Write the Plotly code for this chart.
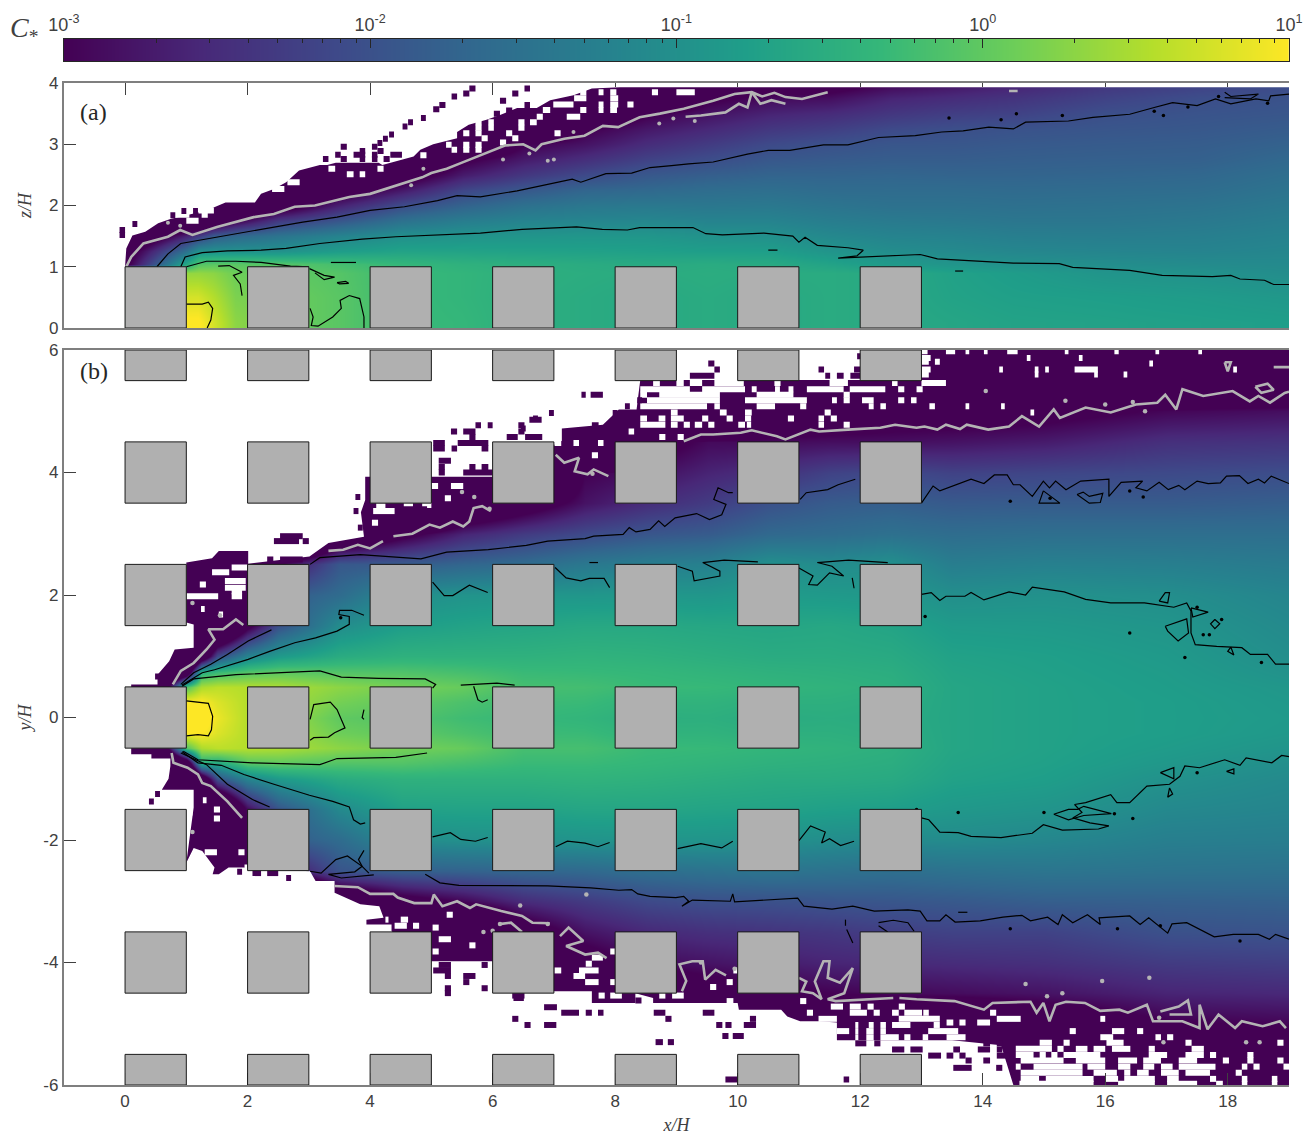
import plotly.graph_objects as go

# ---------- colour bar ----------
CB_DECADES = [0.001, 0.01, 0.1, 1, 10]
CB_EXPONENTS = [-3, -2, -1, 0, 1]
CB_LABELS = ["10<sup>-3</sup>", "10<sup>-2</sup>", "10<sup>-1</sup>", "10<sup>0</sup>", "10<sup>1</sup>"]
CB_MINOR = [m * d for d in CB_DECADES[:-1] for m in (2, 3, 4, 5, 6, 7, 8, 9)]

# ---------- canopy blocks ----------
BLOCK_X = [0, 2, 4, 6, 8, 10, 12]
BLOCK_Y = [-6, -4, -2, 0, 2, 4, 6]

# ---------- panel (a): log10 C by column ----------
XA = [0, 1, 1.2, 1.45, 1.8, 2.5, 3.5, 4.5, 5.5, 6.5, 7.5, 8.5, 9.5, 10.5, 11.5, 12.5, 13.5, 14.5, 16, 17.5, 19]
ZA = [0.1, 0.5, 0.9, 1.05, 1.25, 1.5, 1.75, 2, 2.25, 2.5, 2.75, 3, 3.25, 3.5, 3.75, 3.95]
COLS_A = [
 [-.3,-.3,-.3,-3.2,-3.4,-4,-5,-5,-5,-5,-5,-5,-5,-5,-5,-5],
 [1.05,.75,.35,-.6,-1.5,-2.6,-4,-5,-5,-5,-5,-5,-5,-5,-5,-5],
 [1.05,.75,.35,-.1,-1,-2.3,-4,-5,-5,-5,-5,-5,-5,-5,-5,-5],
 [.75,.55,.3,-.05,-.98,-1.85,-3.5,-4,-5,-5,-5,-5,-5,-5,-5,-5],
 [.3,.2,.1,-.05,-.98,-1.65,-3,-4,-5,-5,-5,-5,-5,-5,-5,-5],
 [.1,.1,0,-.08,-.98,-1.45,-2.3,-3.4,-4,-5,-5,-5,-5,-5,-5,-5],
 [-.05,-.05,-.08,-.2,-.8,-1.2,-1.9,-2.6,-3.3,-4,-5,-5,-5,-5,-5,-5],
 [-.3,-.3,-.3,-.35,-.7,-1,-1.5,-2.05,-2.75,-3.4,-4,-5,-5,-5,-5,-5],
 [-.35,-.38,-.38,-.45,-.7,-.95,-1.3,-1.72,-2.15,-2.7,-3.1,-4,-5,-5,-5,-5],
 [-.5,-.5,-.48,-.5,-.72,-.92,-1.2,-1.5,-1.9,-2.35,-2.7,-3.02,-4,-5,-5,-5],
 [-.55,-.55,-.52,-.55,-.73,-.9,-1.17,-1.4,-1.7,-2.1,-2.45,-2.8,-3.05,-3.6,-4.5,-5],
 [-.6,-.6,-.55,-.58,-.75,-.9,-1.15,-1.37,-1.65,-1.9,-2.2,-2.5,-2.75,-3.05,-4,-5],
 [-.55,-.55,-.52,-.55,-.78,-.97,-1.2,-1.4,-1.58,-1.8,-2.05,-2.3,-2.55,-2.8,-3.1,-4],
 [-.6,-.6,-.55,-.58,-.78,-1,-1.2,-1.38,-1.55,-1.72,-1.9,-2.1,-2.35,-2.6,-2.9,-3.3],
 [-.55,-.55,-.55,-.7,-.93,-1.12,-1.3,-1.45,-1.6,-1.72,-1.85,-2,-2.25,-2.5,-2.85,-3.2],
 [-.6,-.6,-.6,-.85,-1.05,-1.2,-1.35,-1.5,-1.6,-1.7,-1.82,-1.93,-2.1,-2.35,-2.6,-2.9],
 [-.65,-.7,-.72,-.92,-1.1,-1.22,-1.38,-1.5,-1.6,-1.72,-1.82,-1.92,-2.03,-2.25,-2.5,-2.75],
 [-.7,-.75,-.8,-.98,-1.15,-1.28,-1.42,-1.52,-1.62,-1.72,-1.8,-1.88,-1.98,-2.2,-2.4,-2.6],
 [-.72,-.78,-.93,-1.04,-1.18,-1.3,-1.42,-1.5,-1.6,-1.7,-1.78,-1.85,-1.93,-2.02,-2.2,-2.35],
 [-.75,-.82,-.97,-1.08,-1.2,-1.28,-1.38,-1.47,-1.58,-1.67,-1.77,-1.83,-1.9,-1.96,-2.05,-2.2],
 [-.78,-.88,-1.05,-1.1,-1.16,-1.22,-1.3,-1.38,-1.47,-1.55,-1.65,-1.75,-1.84,-1.92,-1.98,-2.07],
]

# ---------- panel (b): log10 C by column ----------
XB = [.4, 1, 1.25, 1.5, 2, 2.5, 3.5, 4.5, 5.5, 6.5, 7.5, 8.5, 9.5, 10.5, 11.5, 12.5, 13.5, 15, 17, 19]
YB = [6, 5.5, 5, 4.5, 4, 3.5, 3, 2.5, 2, 1.5, 1, .75, .5, .25, 0, -.25, -.5, -.75, -1, -1.5, -2, -2.5, -3, -3.5, -4, -4.5, -5, -5.5, -6]
COLS_B = [
 [-6,-6,-6,-6,-6,-6,-6,-6,-6,-6,-6,-6,-6,-6,-6,-6,-6,-6,-6,-6,-6,-6,-6,-6,-6,-6,-6,-6,-6],
 [-6,-6,-6,-6,-6,-6,-6,-6,-6,-6,-6,-4,-.1,1,1.2,1,-.1,-4,-6,-6,-6,-6,-6,-6,-6,-6,-6,-6,-6],
 [-6,-6,-6,-6,-6,-6,-6,-6,-6,-6,-4,-.5,.5,1.02,1.2,1.02,.5,-.5,-4,-6,-6,-6,-6,-6,-6,-6,-6,-6,-6],
 [-6,-6,-6,-6,-6,-6,-6,-6,-6,-5,-2.1,-.3,.6,.8,.9,.8,.6,-.6,-2,-5,-6,-6,-6,-6,-6,-6,-6,-6,-6],
 [-6,-6,-6,-6,-6,-6,-6,-6,-5,-3.2,-1.2,-.1,.55,.55,.55,.55,.55,-.05,-1.2,-2.9,-4.5,-6,-6,-6,-6,-6,-6,-6,-6],
 [-6,-6,-6,-6,-6,-6,-6,-3,-1.9,-2,-.85,-.02,.5,.5,.45,.5,.5,0,-.85,-1.95,-1.9,-3,-6,-6,-6,-6,-6,-6,-6],
 [-6,-6,-6,-6,-6,-6,-4,-1.9,-1.6,-1.05,-.55,-.1,.3,.15,0,.1,.3,-.1,-.55,-1.1,-1.6,-1.95,-4,-6,-6,-6,-6,-6,-6],
 [-6,-6,-6,-6,-6,-6,-3.2,-1.85,-1.05,-.78,-.45,-.12,.15,0,-.1,0,.15,-.1,-.45,-.72,-1.05,-1.8,-3.3,-6,-6,-6,-6,-6,-6],
 [-6,-6,-6,-6,-6,-4,-2.6,-1.7,-.95,-.7,-.45,-.2,.05,-.15,-.25,-.15,.05,-.2,-.45,-.7,-1,-1.75,-2.95,-5,-6,-6,-6,-6,-6],
 [-6,-6,-6,-6,-5,-3.4,-2.3,-1.6,-.9,-.65,-.45,-.3,-.2,-.28,-.33,-.28,-.2,-.3,-.45,-.7,-.98,-1.7,-2.5,-3.4,-5,-6,-6,-6,-6],
 [-6,-6,-6,-6,-3,-2.8,-2.1,-1.4,-.9,-.6,-.42,-.32,-.22,-.3,-.38,-.3,-.2,-.3,-.42,-.65,-.95,-1.65,-2.3,-2.8,-3.3,-5,-6,-6,-6],
 [-6,-6,-6,-3.3,-2.85,-2.5,-1.93,-1.3,-.88,-.6,-.45,-.35,-.3,-.42,-.5,-.42,-.3,-.35,-.45,-.65,-.93,-1.55,-2.1,-2.55,-2.9,-3.6,-6,-6,-6],
 [-6,-6,-5,-2.9,-2.6,-2.3,-1.85,-1.25,-.9,-.63,-.5,-.4,-.32,-.42,-.48,-.42,-.32,-.4,-.5,-.68,-.93,-1.5,-2.02,-2.45,-2.8,-3.3,-6,-6,-6],
 [-6,-6,-3.7,-2.9,-2.45,-2,-1.65,-1,-.82,-.65,-.55,-.45,-.38,-.48,-.55,-.48,-.38,-.45,-.55,-.7,-.97,-1.45,-2,-2.4,-2.7,-3.1,-5,-6,-6],
 [-6,-6,-3.5,-2.85,-2.2,-1.85,-1.6,-1.08,-.85,-.62,-.55,-.48,-.42,-.48,-.52,-.48,-.42,-.48,-.55,-.75,-1.05,-1.5,-1.95,-2.35,-2.6,-3,-5,-6,-6],
 [-6,-4,-3.3,-2.85,-2.1,-1.8,-1.52,-1,-.88,-.68,-.58,-.52,-.48,-.52,-.55,-.52,-.48,-.52,-.58,-.78,-1.1,-1.55,-1.92,-2.25,-2.55,-2.93,-4,-6,-6],
 [-4,-4,-3.3,-2.8,-2.2,-1.87,-1.58,-1.3,-1.02,-.83,-.72,-.68,-.65,-.65,-.65,-.65,-.65,-.68,-.72,-.87,-1.08,-1.5,-1.88,-2.2,-2.5,-2.88,-4,-5,-6],
 [-4,-4,-3.2,-2.7,-2.15,-1.85,-1.55,-1.25,-.98,-.85,-.76,-.74,-.72,-.72,-.72,-.72,-.72,-.74,-.78,-.93,-1.15,-1.45,-1.8,-2.2,-2.45,-2.8,-3.5,-5,-6],
 [-4,-4,-2.95,-2.45,-2.1,-1.85,-1.55,-1.28,-1.03,-.92,-.85,-.82,-.8,-.78,-.78,-.78,-.82,-.88,-.98,-1.12,-1.28,-1.48,-1.78,-2,-2.3,-2.6,-3.05,-5,-6],
 [-4,-4,-2.85,-2.4,-2.05,-1.8,-1.55,-1.35,-1.18,-1.1,-1.03,-.97,-.9,-.87,-.85,-.87,-.93,-1.03,-1.1,-1.18,-1.3,-1.5,-1.75,-1.97,-2.25,-2.55,-2.97,-5,-6],
]

# ---------- outer edge of the non-zero region (x, y pairs) ----------
EDGE_A = [(0,1),(.02,1.3),(.12,1.51),(.33,1.57),(.54,1.71),(.74,1.78),(1.33,1.92),(1.64,2.05),(2.12,2.05),(2.22,2.19),
          (2.43,2.27),(2.63,2.38),(2.84,2.57),(3.04,2.62),(3.18,2.66),(3.3,2.66),(3.44,2.7),(4.14,2.7),(4.2,2.66),(4.71,2.8),
          (4.82,2.91),(5.03,3),(5.42,3.1),(5.42,3.2),(5.61,3.32),(5.9,3.4),(6.1,3.47),(6.4,3.59),(6.72,3.59),(6.94,3.72),
          (7.32,3.8),(7.62,3.91),(8.08,3.93),(19,3.93)]
EDGE_B_UP = [(.53,.54),(.53,.7),(.72,.92),(.81,1.11),(1.12,1.14),(1.12,1.52),(1,1.55),(1,2.53),(1.42,2.6),(1.53,2.72),
             (2.01,2.72),(2.01,2.51),(3.01,2.63),(3.32,2.85),(3.9,2.95),(3.85,3.35),(3.92,3.55),(3.92,3.93),(5,3.93),(6,3.93),
             (7,4.45),(7.13,4.52),(7.13,4.72),(7.8,4.78),(8.06,5.03),(8.35,5.03),(8.41,5.51),(12.05,5.51),(12.05,6),(13,6)]
EDGE_B_LOW = [(.43,-.6),(.43,-.67),(.74,-.67),(.74,-.79),(.71,-1),(.6,-1.18),(1.12,-1.18),(1.12,-1.47),(1,-2.37),
              (1.12,-2.13),(1.26,-2.18),(1.46,-2.45),(1.43,-2.56),(1.53,-2.56),(1.69,-2.45),(1.93,-2.45),(3.02,-2.51),
              (3.11,-2.67),(3.42,-2.67),(3.42,-2.86),(3.84,-3.05),(4.15,-3.08),(4.22,-3.27),(3.94,-3.3),(3.94,-3.38),
              (4.35,-3.38),(4.35,-3.49),(5,-3.98),(6,-3.98),(7,-4.47),(7.62,-4.47),(7.62,-4.66),(8.33,-4.66),(8.33,-4.5),
              (8.62,-4.58),(8.62,-4.66),(10,-4.66),(10.02,-4.77),(10.71,-4.77),(10.81,-4.88),(11.02,-4.96),(11.33,-4.96),
              (11.62,-4.98),(11.62,-5.27),(13.5,-5.27),(14.3,-5.35),(14.5,-6),(19,-6)]

# ---------- empty cells inside the region: y -> x start, x end, ... ----------
HOLES_A = {
 3.85:[7.43,7.53,7.73,7.81,7.92,8.02,8.6,8.7,9,9.3], 3.75:[7.33,7.53,7.92,8.05], 3.65:[6.99,7.32,7.73,7.81,7.92,8.05,8.2,8.3],
 3.56:[6.82,6.94,7.43,7.53,7.73,7.81,7.92,8.03], 3.45:[6.72,6.82,7.21,7.43], 3.36:[5.72,5.82,5.93,6.02,6.42,6.52,6.61,6.72],
 3.27:[5.72,5.82,5.93,6.02,6.42,6.52], 3.18:[5.52,5.62,5.72,5.82,6.22,6.32,7.01,7.11], 3.1:[5.82,5.92,6.32,6.42], 3.03:[6.12,6.22],
 2.99:[5.24,5.33,5.52,5.62,5.72,5.82], 2.91:[5.33,5.42,5.52,5.62,5.72,5.82], 2.82:[4.82,4.92],
 2.6:[3.32,3.43,4.12,4.22], 2.51:[3.62,3.73,3.83,3.92], 2.38:[2.65,2.85], 2.27:[2.4,2.6], 1.92:[1.2,1.45], 1.85:[.8,1.05,1.25,1.35], 1.75:[1,1.2],
}
ISLANDS_A = {
 3.91:[5.62,5.72,6.52,6.61], 3.83:[5.52,5.62,6.32,6.42], 3.78:[5.33,5.42], 3.71:[6.12,6.22], 3.64:[5.13,5.23,6.52,6.61], 3.57:[5.03,5.13],
 3.55:[6.22,6.32], 3.5:[6.02,6.12], 3.43:[4.83,4.91], 3.36:[4.62,4.7], 3.29:[4.53,4.61], 3.16:[4.31,4.39], 3.09:[4.21,4.29], 3.02:[4.12,4.2],
 2.96:[3.52,3.62,4.03,4.12], 2.89:[3.83,3.92,4.12,4.22], 2.83:[3.43,3.52,3.73,3.92,4.03,4.12,4.33,4.52], 2.76:[3.23,3.32,3.52,3.62,3.83,3.92,4.03,4.12,4.22,4.32],
 1.7:[.12,.2], 1.6:[-.09,0], 1.52:[-.09,0], 1.84:[.74,.82], 1.91:[.92,1,1.11,1.19],
}
HOLES_B = {
 5.98:[13,13.1,13.4,13.55,13.72,13.78,14.02,14.08,14.4,14.57,15.34,15.4,16.15,16.22,16.82,16.88,17.52,17.58],
 5.87:[13,13.15,14.72,14.78,15.57,15.63], 5.81:[13,13.12,13.22,13.3], 5.78:[16.72,16.78], 5.68:[13,13.15,14.27,14.33,14.85,14.91,15.02,15.08,15.5,15.88,18.09,18.15],
 5.6:[13,13.12,14.85,14.91,15.82,15.88,16.3,16.36],
 5.46:[8.62,8.73,9,9.12,9.22,9.42,9.62,10.1,10.6,10.7,11.5,11.8,12.52,12.61,13,13.4],
 5.36:[8.41,9.22,9.42,10.12,10.23,10.31,10.61,10.69,10.83,10.91,11.13,11.73,11.83,12.41,12.62,12.72,12.92,13.02],
 5.27:[8.41,8.52,8.72,9.71,10.31,10.91,11.73,11.83],
 5.18:[8.52,9.71,10.12,11.13,11.54,11.62,11.73,11.83,12.03,12.22,12.62,12.72,12.83,12.92],
 5.08:[8.41,9.5,9.62,9.71,10.31,10.61,11.02,11.12,12.14,12.22,12.33,12.42,13.13,13.22,13.72,13.78,14.3,14.36],
 4.98:[8.91,9.02,9.71,9.82,10.12,10.23,11.42,11.52,14.78,14.84],
 4.88:[8.41,8.52,8.71,8.82,8.91,9.12,9.42,9.52,9.82,9.92,10.12,10.22,10.82,10.92,11.32,11.41,11.52,11.62],
 4.78:[8.41,8.82,8.91,9.02,9.12,9.22,9.3,9.42,9.52,9.62,10.01,10.12,10.15,10.22,11.32,11.41,11.73,11.83],
 4.67:[8.22,8.31], 4.58:[8.72,8.82,9.02,9.12], 4.48:[7.01,7.12,7.32,7.41,7.72,7.81], 4.28:[7.62,7.72],
 3.78:[5,5.11,5.32,5.52], 3.58:[5.22,5.32], 3.5:[4.55,4.7,4.85,4.95], 3.47:[4.93,5],
 3.37:[4.05,4.4], 3.45:[4.1,4.25], 3.18:[4.03,4.13], 2.37:[1.42,1.7], 2.45:[1.74,2], 2.23:[1.63,1.97], 2.12:[1.63,1.97], 2.17:[1.22,1.32], 2.06:[1.74,1.91], 1.98:[1,1.52,1.74,1.91], 1.77:[1.24,1.3], 1.68:[1.53,1.6],
 -1.35:[1.27,1.33], -1.5:[1.45,1.55], -1.55:[1.02,1.1], -1.65:[1.45,1.55], -2.2:[1.3,1.5,1.85,1.95], -2.45:[1.95,2],
 -3.22:[5.25,5.35], -3.3:[4.25,4.3,4.5,4.62], -3.4:[4.4,4.6,4.7,4.8],
 -3.43:[5.02,5.12], -3.62:[5.12,5.32], -3.72:[5.62,5.72], -3.82:[5.02,5.12,7.92,8], -3.92:[7.62,7.8], -4.02:[7.52,7.62],
 -4.13:[7.01,7.12,7.41,7.73,9.93,10], -4.22:[7.32,7.51], -4.32:[7.51,7.73,7.92,8,9.82,9.92], -4.4:[9.55,9.65], -4.54:[7.73,7.83,7.92,8.11,8.72,8.82,8.93,9.12],
 -4.63:[9.82,9.93,11.02,11.12],
 -4.72:[11.52,11.72,11.83,12.01,12.12,12.22,12.63,12.73],
 -4.82:[11.13,11.23,11.83,12.11,12.22,12.32,12.52,12.63,12.72,13.01,13.03,13.12,14.12,14.22],
 -4.92:[11.32,11.62,12.63,13.3,14.23,14.62,15.92,16],
 -4.98:[13.41,13.52,13.62,13.72,13.91,14.12],
 -5.02:[11.92,11.97,12.14,12.22,12.33,12.42,12.52,12.82,13.2,13.3],
 -5.12:[11.62,11.82,11.92,11.97,12.1,12.22,12.33,12.42,13.11,13.6,15.42,15.52,16.11,16.31,16.52,16.62],
 -5.22:[11.92,11.97,12.1,12.22,12.33,12.63,12.72,12.82,13.02,13.11,13.41,13.72,15.92,16.13,16.82,16.91,17.01,17.11],
 -5.31:[14.93,15.13,15.32,15.42,16.02,16.3,17.31,17.41,18.81,18.91],
 -5.41:[14.54,15.13,15.22,15.32,15.52,15.71,15.81,16,16.11,16.41,16.71,16.81,17.41,17.61],
 -5.51:[14.54,14.83,14.93,15.03,15.12,15.22,15.32,15.92,16.71,17.01,17.31,17.61,17.71,17.81,18.32,18.42],
 -5.6:[14.62,15.32,15.52,16,16.21,16.52,16.62,16.91,17.2,17.5,17.92,18.02,18.32,18.42,18.81,18.91],
 -5.7:[14.54,14.62,14.83,15.63,15.71,16,16.21,16.41,16.62,16.8,16.91,17.1,17.2,17.8,18.23,18.32,18.42,18.52,18.91,19],
 -5.8:[14.62,15.63,15.81,16.19,16.31,16.41,16.52,16.71,16.91,17.2,17.31,17.71,18.13,18.23],
 -5.9:[14.62,14.92,15.03,15.81,16,16.21,16.31,16.81,17.01,17.2,17.71,17.81,18.23,18.32,18.72,18.81],
 -5.98:[14.6,15.81,16.21,16.81,17.01,17.5,17.81,17.92,18.23,18.32,18.72,18.81],
}
ISLANDS_B = {
 5.9:[11.95,12.05], 5.78:[9.52,9.62], 5.68:[9.62,9.71,11.32,11.41,11.9,12], 5.58:[9.22,9.62,11.43,11.51,11.62,11.73,11.84,12],
 5.27:[7.45,7.52,7.6,7.8], 5.18:[8.36,8.44], 5.08:[8.16,8.24], 4.97:[6.92,7,7.96,8.04], 4.88:[6.66,6.74], 4.86:[6.6,6.8],
 4.77:[5.72,5.81,5.92,6,6.42,6.52,7.62,7.73], 4.72:[6.46,6.54], 4.67:[5.32,5.42,5.52,5.72,6.42,6.52], 4.58:[5.62,5.72,6.23,6.41,6.53,6.81],
 4.48:[5.03,5.22,5.43,5.93], 4.39:[5.03,5.22,5.33,5.42,5.82,5.93], 4.19:[5.12,5.32], 4.09:[5.12,5.22,5.62,5.72,5.82,5.93], 4.0:[5.12,5.22,5.52,6],
 2.96:[2.53,2.9], 2.88:[2.43,2.84,2.9,3], 2.58:[2.32,2.42,2.53,2.9], 3.6:[3.76,3.84], 3.37:[3.73,3.81], 3.1:[3.8,3.88],
 .67:[.49,.57], -1.37:[.39,.47], -1.25:[.49,.57], -2.52:[1.83,1.91], -2.54:[2.08,2.22,2.32,2.5], -2.62:[2.63,2.71],
 -4.04:[5.12,5.32,5.82,5.92], -4.13:[5.03,5.32], -4.22:[5.22,5.32,5.52,5.72], -4.32:[5.52,5.62], -4.42:[5.22,5.32,5.82,5.92], -4.5:[5.22,5.32], -4.54:[6.32,6.52],
 -4.62:[8.33,8.43], -4.73:[6.84,7.05], -4.82:[7.12,7.41,7.52,7.62,7.72,7.81,8.63,8.82,9.43,9.62], -4.92:[6.32,6.42,8.82,8.92,10.2,10.3], -5.02:[6.52,6.62,6.84,7.04,9.65,9.75,9.8,9.9,10.1,10.3],
 -5.2:[9.75,9.85,9.92,10.1], -5.3:[8.66,8.78,8.86,8.96], -5.91:[9.8,10,11.73,11.82], -4.58:[6.34,6.51],
 -5.32:[11.92,12.1,12.23,12.33,14.01,14.12,14.23,14.32], -5.42:[12.52,12.72,12.82,13.02,13.52,13.63,13.92,14.12,14.23,14.32],
 -5.52:[13.11,13.32,13.41,13.52,13.62,13.72,14.23,14.43], -5.6:[13.72,13.82,14.01,14.12], -5.72:[13.52,13.82,14.22,14.32],
}

# ---------- contour lines, level by level (x, y pairs) ----------
A_GRAY = [
 [(0.02,1),(.1,1.16),(.3,1.38),(.7,1.49),(.9,1.6),(1.1,1.52),(1.5,1.65),(2.1,1.81),(2.43,1.86),(2.77,1.98),(3.1,2),(3.66,2.14),(4,2.19),(4.5,2.35),(4.85,2.46),(5,2.53),(5.25,2.6),(5.5,2.7),(5.93,2.87),(6.2,2.98),(6.5,3),(6.7,2.9),(6.8,3),(7.17,3.09),(7.5,3.14),(7.8,3.3),(8.05,3.28),(8.4,3.44),(8.73,3.5),(9.12,3.58),(9.6,3.71),(9.95,3.82),(10.23,3.85),(10.4,3.78),(10.6,3.84),(10.78,3.77),(11.05,3.74),(11.47,3.85)],
 [(9.15,3.45),(9.4,3.47),(9.8,3.52),(10.02,3.66),(10.16,3.6),(10.23,3.85),(10.37,3.66),(10.55,3.72),(10.78,3.66)],
 [(14.43,3.87),(14.57,3.87)],
]
A_BLACK = [
 [(.52,1),(.7,1.21),(.91,1.38),(1.26,1.44),(1.81,1.54),(2.36,1.63),(2.9,1.73),(3.46,1.81),(4,1.92),(4.56,1.98),(5.1,2.08),(5.42,2.16),(5.8,2.14),(6.4,2.24),(6.9,2.34),(7.3,2.43),(7.44,2.38),(7.85,2.52),(8.27,2.53),(8.57,2.62),(8.92,2.65),(9.2,2.68),(9.6,2.71),(10.16,2.84),(10.5,2.9),(10.85,2.9),(11.4,2.99),(11.8,2.99),(12.3,3.11),(12.9,3.14),(13.33,3.2),(13.68,3.22),(14.1,3.28),(14.5,3.25),(14.7,3.36),(15.4,3.38),(15.8,3.44),(16.4,3.49),(16.8,3.6),(17.1,3.68),(17.5,3.63),(17.8,3.74),(18.05,3.66),(18.46,3.74),(18.67,3.71),(18.7,3.79),(19,3.82)],
 [(17.95,3.85),(18.05,3.78),(18.5,3.82),(18.37,3.74),(17.95,3.76)],
 [(.91,1),(.98,1.16),(1.26,1.23),(1.67,1.26),(2.22,1.27),(2.63,1.3),(3.18,1.38),(3.87,1.45),(4.42,1.49),(5.1,1.52),(5.8,1.55),(6.48,1.61),(7.1,1.64),(7.37,1.65),(7.79,1.61),(8.2,1.6),(8.4,1.64),(9,1.64),(9.27,1.64),(9.48,1.54),(9.75,1.52),(10.43,1.55),(10.9,1.5),(11,1.4),(11.1,1.48),(11.3,1.35),(11.8,1.31),(12.05,1.27),(11.95,1.18),(11.64,1.14),(12.2,1.16),(12.98,1.2),(13.26,1.13),(14.5,1.06),(15.25,1.05),(15.47,.99),(16.4,.94),(16.93,.86),(17.75,.84),(18.05,.86),(18.2,.8),(18.6,.78),(18.75,.71),(19,.71)],
 [(1,1),(1.33,1.09),(1.81,1.09),(2.22,1.07),(2.7,1.01),(3,1)],
 [(1.52,1.01),(1.7,1.02),(1.91,.91),(1.77,.86),(1.88,.72),(1.91,.53)],
 [(1,.39),(1.26,.39),(1.36,.42),(1.43,.32),(1.4,.13),(1.34,0)],
 [(3.01,.97),(3.25,.86),(3.42,.83),(3.25,.79),(3.1,.9)],
 [(3.46,.74),(3.6,.76),(3.65,.73),(3.5,.72),(3.46,.74)],
 [(3.36,1.07),(3.77,1.07)], [(10.5,1.27),(10.65,1.27)], [(13.55,.93),(13.68,.93)],
 [(3.02,.32),(3.07,.18),(3.04,.04),(3.15,.03),(3.39,.18),(3.53,.32),(3.51,.45),(3.66,.53),(3.83,.48),(3.9,.18),(3.9,0)],
]
B_GRAY = [
 [(.78,.54),(.91,.76),(1.12,.89),(1.33,1.11),(1.46,1.27),(1.36,1.44),(1.6,1.44),(1.81,1.6),(1.93,1.51)],
 [(3.32,2.72),(3.56,2.74),(3.8,2.82),(4,2.76),(4.21,2.88)],
 [(4.38,2.96),(4.69,3),(4.97,3.15),(5.14,3.1),(5.35,3.2),(5.52,3.12),(5.62,3.2),(5.69,3.42),(5.83,3.45),(5.97,3.37)],
 [(7.03,4.29),(7.17,4.16),(7.41,4.24),(7.34,4.02),(7.55,3.97),(7.65,4.05),(7.89,3.94)],
 [(9.12,4.51),(9.4,4.62),(9.6,4.62),(10.05,4.65),(10.23,4.69),(10.64,4.59),(10.78,4.54),(11.19,4.7),(11.33,4.67),(11.6,4.69),(11.8,4.7),(12.33,4.73),(12.57,4.78),(12.92,4.73),(13.05,4.75),(13.26,4.7),(13.4,4.78),(13.63,4.71),(13.74,4.78),(14.09,4.7),(14.43,4.75),(14.64,4.92),(14.92,4.75),(15.16,5.03),(15.26,4.89),(15.68,5.06),(16.09,4.98),(16.5,5.11),(16.85,5.14),(16.98,5.27),(17.16,5.03),(17.26,5.36),(17.6,5.25),(18.08,5.33),(18.36,5.16),(18.5,5.25),(18.69,5.14),(18.93,5.3),(19,5.32)],
 [(18.45,5.4),(18.65,5.45),(18.75,5.35),(18.55,5.3),(18.45,5.4)],
 [(18.75,5.72),(19,5.72)], [(17.95,5.8),(18.0,5.65),(18.05,5.8),(17.95,5.8)],
 [(.76,-.58),(.79,-.74),(1.02,-.82),(1.19,-.93),(1.26,-1.07),(1.4,-1.12),(1.67,-1.37),(1.91,-1.64)],
 [(3.42,-2.75),(3.8,-2.77),(4,-2.88),(4.38,-2.88),(4.45,-2.94),(4.72,-3.03),(5,-3.03),(5.04,-2.89),(5.18,-3.08),(5.42,-3),(5.63,-3.11),(5.73,-3.05),(6.14,-3.16),(6.48,-3.24),(6.65,-3.35),(6.93,-3.36)],
 [(6.14,-3.37),(6.3,-3.35),(6.48,-3.5)],
 [(7.1,-3.57),(7.24,-3.43),(7.48,-3.65),(7.2,-3.73),(7.51,-3.87),(7.72,-3.84),(7.86,-3.93)],
 [(9.09,-4.47),(9.16,-4.3),(9.05,-4.03),(9.26,-3.98),(9.43,-3.98),(9.47,-4.28),(9.64,-4.12),(9.81,-4.21)],
 [(11,-4.25),(11.12,-4.31),(11.05,-4.47),(11.23,-4.5),(11.37,-4.6),(11.26,-4.31),(11.4,-3.98),(11.5,-3.98),(11.47,-4.25),(11.67,-4.33),(11.88,-4.09),(11.74,-4.5),(11.47,-4.6),(11.6,-4.63),(12.54,-4.58)],
 [(12.64,-4.58),(12.92,-4.6),(13.54,-4.63),(14.02,-4.77),(14.16,-4.66),(14.78,-4.64),(14.88,-4.82),(14.99,-4.66),(15.09,-4.96),(15.19,-4.69),(15.36,-4.64),(15.67,-4.66),(15.92,-4.79),(16.23,-4.77),(16.37,-4.82),(16.68,-4.69),(16.78,-4.96),(17.26,-4.96),(17.54,-5.07),(17.54,-4.69),(17.67,-5.09),(17.85,-4.85),(18.12,-5.07),(18.23,-4.96),(18.57,-5.04),(18.85,-4.96),(18.95,-5.07)],
 [(16.9,-4.8),(17.2,-4.72),(17.35,-4.62),(17.4,-4.85),(17.05,-4.85)],
]
B_BLACK = [
 [(.91,.54),(1.12,.73),(1.4,.87),(1.67,1.03),(2.01,1.25),(2.39,1.43)],
 [(.93,.53),(1.26,.73),(1.46,.78),(2.01,.95),(2.36,1.08),(2.77,1.22),(3.11,1.3),(3.46,1.41),(3.66,1.52),(3.66,1.65),(3.49,1.68),(3.5,1.75),(3.7,1.75),(3.9,1.67)],
 [(.93,.51),(1.12,.63),(1.81,.7),(2.63,.74),(3.18,.76),(3.53,.66),(4.14,.64),(4.9,.63),(5.07,.54),(5.02,.48)],
 [(5.48,.53),(6.07,.56),(6.36,.53)], [(5.69,.51),(5.76,.29),(5.83,.25),(5.92,.29)],
 [(1,.27),(1.19,.25),(1.36,.23),(1.43,.02),(1.41,-.2),(1.36,-.3),(1.19,-.28),(1,-.3)],
 [(3.02,-.03),(3.08,.21),(3.35,.25),(3.46,.13),(3.59,-.17),(3.42,-.25),(3.32,-.32),(3.08,-.33),(3.02,-.37)],
 [(3.9,.13),(3.87,0),(3.9,-.03)],
 [(5.02,2.21),(5.21,1.99),(5.35,1.99),(5.62,2.16),(5.92,2.04)],
 [(7.02,2.45),(7.2,2.28),(7.44,2.23),(7.58,2.27),(7.82,2.27),(7.91,2.12)],
 [(7.58,2.53),(7.72,2.53)],
 [(9.02,2.47),(9.26,2.39),(9.29,2.23),(9.71,2.31),(9.71,2.39),(9.43,2.53),(9.78,2.57),(10.33,2.54)],
 [(11,2.44),(11.23,2.31),(11.16,2.17),(11.3,2.16),(11.5,2.36),(11.73,2.31),(11.54,2.47),(11.3,2.53),(11.81,2.57),(12.45,2.53)],
 [(11.87,2.28),(11.9,2.11)],
 [(13,2.01),(13.16,2.04),(13.3,1.91),(13.4,1.98),(13.71,1.98),(13.81,2.04),(14.02,1.92),(14.22,1.98),(14.43,2.05),(14.7,2),(14.81,2.13),(15.33,2.05),(15.68,1.93),(16.09,1.87),(16.64,1.87),(17.12,1.8),(17.33,1.87),(17.4,1.74),(17.4,1.38),(17.47,1.19),(17.82,1.16),(18.23,1.14),(18.37,1.03),(18.65,1.03),(18.78,.87),(19,.87)],
 [(16.88,1.9),(16.98,2.04),(17.05,2.04),(17.02,1.87),(16.88,1.9)],
 [(17.4,1.79),(17.68,1.72),(17.43,1.64),(17.4,1.79)],
 [(16.98,1.49),(17.33,1.61),(17.36,1.38),(17.19,1.25),(17.02,1.41),(16.98,1.49)],
 [(17.79,1.6),(17.87,1.53),(17.79,1.45),(17.72,1.53),(17.79,1.6)],
 [(18.05,1.15),(18.1,1.02),(18,1.08),(18.05,1.15)],
 [(13,3.5),(13.19,3.78),(13.3,3.7),(13.81,3.89),(14.02,3.82),(14.19,3.96),(14.4,3.96),(14.5,3.8),(14.61,3.8),(14.81,3.61),(14.99,3.86),(15.09,3.75),(15.19,3.86),(15.36,3.72),(15.6,3.86),(16.06,3.89),(16.06,3.61),(16.26,3.84),(16.61,3.86),(16.5,3.75),(16.68,3.7),(16.88,3.84),(17.03,3.72),(17.2,3.79),(17.3,3.72),(17.5,3.86),(17.68,3.82),(17.88,3.83),(17.98,3.94),(18.19,3.95),(18.33,3.82),(18.5,3.89),(18.6,3.83),(18.71,3.94),(19,3.82)],
 [(14.99,3.7),(15.26,3.5),(14.92,3.5),(14.99,3.7)],
 [(15.54,3.64),(15.74,3.5),(15.92,3.51),(15.96,3.66),(15.74,3.61),(15.64,3.68),(15.54,3.64)],
 [(3.02,2.5),(3.18,2.61),(3.84,2.66),(4.83,2.59),(5.25,2.7),(5.93,2.74),(6.55,2.81),(6.9,2.88),(7.51,2.92),(7.65,2.96),(8.13,2.99),(8.23,3.1),(8.34,3.03),(8.57,3.07),(8.71,3.21),(8.81,3.12),(8.98,3.26),(9.33,3.33),(9.54,3.23),(9.74,3.31),(9.81,3.48),(9.61,3.56),(9.68,3.75),(9.85,3.67),(9.92,3.67)],
 [(11.02,3.56),(11.12,3.67),(11.47,3.72),(11.64,3.8),(11.92,3.89)],
 [(.93,-.56),(1.19,-.74),(1.57,-.78),(1.94,-.93),(2.43,-1.09),(3.01,-1.27),(3.39,-1.37),(3.66,-1.46),(3.73,-1.67),(3.84,-1.74),(3.92,-1.72)],
 [(.91,-.58),(1.33,-.77),(1.67,-1.09),(2.08,-1.34),(2.36,-1.46)],
 [(.95,-.55),(1.19,-.69),(2.08,-.74),(3.18,-.77),(3.46,-.67),(4.42,-.65),(4.93,-.58)],
 [(5.02,-1.95),(5.31,-1.88),(5.48,-1.99),(5.72,-2.02),(5.92,-1.96)],
 [(7.03,-2.11),(7.22,-2.02),(7.51,-2.05),(7.72,-2.11),(7.91,-2.04)],
 [(9.02,-2.14),(9.4,-2.06),(9.74,-2.13),(9.92,-2.02)],
 [(11,-2.01),(11.19,-1.77),(11.43,-1.87),(11.37,-2.05),(11.5,-1.98),(11.68,-2.09),(11.9,-2.02)],
 [(13,-1.64),(13.12,-1.67),(13.3,-1.87),(13.6,-1.88),(13.81,-1.94),(14.3,-1.96),(14.81,-1.89),(14.99,-1.75),(15.3,-1.84),(15.89,-1.82),(16.06,-1.77),(15.75,-1.72),(15.47,-1.64),(15.62,-1.55),(15.5,-1.42),(15.68,-1.39),(16.09,-1.26),(16.19,-1.39),(16.4,-1.39),(16.68,-1.12),(17.05,-1.09),(17.22,-.96),(17.3,-.79),(17.54,-.82),(17.95,-.69),(18.2,-.78),(18.3,-.66),(18.72,-.74),(18.88,-.62),(19,-.64)],
 [(15.16,-1.58),(15.4,-1.5),(15.55,-1.5),(15.65,-1.45),(16.1,-1.57),(15.65,-1.6),(15.4,-1.67),(15.16,-1.58)],
 [(16.9,-.9),(17.12,-.82),(17.12,-1),(16.9,-.9)], [(17.98,-.88),(18.1,-.84),(18.1,-.92),(17.98,-.88)], [(17.05,-1.15),(17.1,-1.25),(17.02,-1.3),(17.05,-1.15)],
 [(3.02,-2.51),(3.2,-2.54),(3.44,-2.32),(3.63,-2.26),(3.87,-2.43),(3.98,-2.54)], [(3.9,-2.17),(3.81,-2.32),(3.87,-2.43),(3.75,-2.52),(3.32,-2.56),(3.53,-2.62),(4.06,-2.57)],
 [(4.9,-2.56),(5.14,-2.7),(5.45,-2.74),(6.9,-2.75),(7.6,-2.78),(8.06,-2.82),(8.27,-2.81),(8.37,-2.88),(8.57,-2.92),(8.99,-2.94),(9.12,-2.92),(9.2,-3),(9.09,-3.08),(9.26,-2.98),(9.88,-3),(9.92,-2.88),(9.95,-3.01),(10.98,-2.95),(11.08,-3.08),(11.54,-3.13),(11.88,-3.08),(12.23,-3.16),(12.78,-3.14),(12.98,-3.16),(13.09,-3.32),(13.3,-3.32),(13.4,-3.22),(13.55,-3.34),(13.96,-3.32),(14.33,-3.26),(14.64,-3.23),(14.78,-3.32),(15.06,-3.26),(15.23,-3.38),(15.3,-3.22),(15.47,-3.35),(15.71,-3.22),(15.92,-3.38),(15.9,-3.27),(16.4,-3.24),(16.57,-3.38),(16.71,-3.27),(17.02,-3.52),(17.09,-3.37),(17.33,-3.35),(17.78,-3.58),(18.09,-3.54),(18.5,-3.54),(18.68,-3.62),(18.78,-3.54),(19,-3.62)],
 [(12.3,-3.35),(12.54,-3.31),(12.78,-3.35),(12.88,-3.49)], [(12.3,-3.4),(12.45,-3.5)],
 [(11.78,-3.46),(11.88,-3.68)], [(11.76,-3.3),(11.76,-3.4)], [(13.6,-3.18),(13.75,-3.18)],
]
A_DOTS_GRAY = ([4.87,4.67,6.17,6.6,6.9,7.0,7.32,.9,.7,8.72,8.95,9.3], [2.6,2.33,2.75,2.85,2.73,2.75,3.2,1.67,1.72,3.34,3.42,3.38])
A_DOTS_BLACK = ([13.45,14.3,14.55,15.3,16.8,17.35,18.65,16.95,17.85], [3.43,3.4,3.5,3.47,3.54,3.61,3.67,3.47,3.78])
B_DOTS_GRAY = ([5.7,5.5,5.95,7.63,1.1,1.55,14.05,16.0,16.45,15.35,16.65,6.0,6.45,7.53,6.12,5.85,6.9,14.7,15.05,15.95,16.95,18.52,18.3,1.1,8.87,9.4,9.95,16.72,15.3,16.88],
              [3.6,3.68,3.41,3.98,1.87,1.67,5.33,5.11,5.15,5.17,5.0,-3.48,-3.07,-2.89,-3.37,-3.5,-3.37,-4.35,-4.55,-4.3,-5.3,-5.3,-5.3,-1.87,-4.13,-4.0,-4.1,-4.25,-4.5,-4.9])
B_DOTS_BLACK = ([3.52,13.06,14.45,15.1,16.4,16.62,17.5,17.9,17.6,17.7,16.4,17.3,18.55,16.15,12.92,13.6,15,16.45,16.9,17.5,18.2,14.45,16.2],
                [1.63,1.65,3.53,3.58,3.7,3.6,1.8,1.6,1.35,1.35,1.38,.98,.9,-1.57,-1.5,-1.55,-1.55,-1.65,-3.4,-.9,-3.65,-3.45,-3.45])


def unzip(lines):
    xs, ys = [], []
    for line in lines:
        for px, py in line:
            xs.append(px)
            ys.append(py)
        xs.append(None)
        ys.append(None)
    return xs, ys


def runs(rows):
    xs, ys = [], []
    for level, spans in rows.items():
        for i in range(0, len(spans), 2):
            xs += [spans[i], spans[i + 1], None]
            ys += [level, level, None]
    return xs, ys


def transpose(cols):
    return [list(r) for r in zip(*cols)]


PURPLE = "#440154"
CMIN, CMAX = -3, 1
fig = go.Figure()


def heat(x, y, z, xa, ya):
    fig.add_trace(go.Heatmap(x=x, y=y, z=z, zsmooth="best", colorscale="Viridis", zmin=CMIN, zmax=CMAX,
                             showscale=False, hoverinfo="skip", xaxis=xa, yaxis=ya))


def mask(points, xa, ya):
    xs, ys = zip(*points)
    fig.add_trace(go.Scatter(x=xs, y=ys, mode="lines", fill="toself", fillcolor="white", line=dict(width=0),
                             hoverinfo="skip", xaxis=xa, yaxis=ya))


def cells(rows, color, xa, ya):
    xs, ys = runs(rows)
    fig.add_trace(go.Scatter(x=xs, y=ys, mode="lines", line=dict(color=color, width=6), hoverinfo="skip", xaxis=xa, yaxis=ya))


def contour(lines, color, width, xa, ya):
    xs, ys = unzip(lines)
    fig.add_trace(go.Scatter(x=xs, y=ys, mode="lines", line=dict(color=color, width=width), hoverinfo="skip", xaxis=xa, yaxis=ya))


def dots(d, color, size, xa, ya):
    fig.add_trace(go.Scatter(x=d[0], y=d[1], mode="markers", marker=dict(color=color, size=size), hoverinfo="skip", xaxis=xa, yaxis=ya))


# colour bar
fig.add_trace(go.Heatmap(x=CB_DECADES, y=[0, 1], z=[CB_EXPONENTS, CB_EXPONENTS], zsmooth="best", colorscale="Viridis",
                         zmin=CMIN, zmax=CMAX, showscale=False, hoverinfo="skip", xaxis="x3", yaxis="y3"))

# panel a
heat(XA, ZA, transpose(COLS_A), "x", "y")
mask(EDGE_A + [(19, 4), (-1, 4), (-1, 0), (0, 0)], "x", "y")
cells(HOLES_A, "white", "x", "y")
cells(ISLANDS_A, PURPLE, "x", "y")
contour(A_GRAY, "#b4b4b4", 2.6, "x", "y")
contour(A_BLACK, "black", 1.2, "x", "y")
dots(A_DOTS_GRAY, "#b4b4b4", 4, "x", "y")
dots(A_DOTS_BLACK, "black", 3.5, "x", "y")

# panel b
heat(XB, YB, transpose(COLS_B), "x2", "y2")
mask(EDGE_B_UP + [(-1, 6), (-1, .54)], "x2", "y2")
mask(EDGE_B_LOW + [(19, -6.1), (-1, -6.1), (-1, -.6)], "x2", "y2")
cells(HOLES_B, "white", "x2", "y2")
cells(ISLANDS_B, PURPLE, "x2", "y2")
contour(B_GRAY, "#b4b4b4", 2.6, "x2", "y2")
contour(B_BLACK, "black", 1.2, "x2", "y2")
dots(B_DOTS_GRAY, "#b4b4b4", 4.5, "x2", "y2")
dots(B_DOTS_BLACK, "black", 3.5, "x2", "y2")

# blocks
shapes = []
for bx in BLOCK_X:
    shapes.append(dict(type="rect", xref="x", yref="y", x0=bx, x1=bx + 1, y0=0, y1=1, layer="above",
                       fillcolor="#b0b0b0", line=dict(color="#1a1a1a", width=1)))
    for by in BLOCK_Y:
        shapes.append(dict(type="rect", xref="x2", yref="y2", x0=bx, x1=bx + 1, y0=max(by - .5, -6), y1=min(by + .5, 6),
                           layer="above", fillcolor="#b0b0b0", line=dict(color="#1a1a1a", width=1)))

W, H = 1315, 1135
L, R = 63.8 / W, 1289 / W
TICK = dict(family="Liberation Sans, Arial, sans-serif", size=17, color="#404040")
CBTICK = dict(family="Liberation Sans, Arial, sans-serif", size=18, color="#404040")
AXC = "#7f7f7f"
TITLE = dict(family="Liberation Serif, serif", size=18, color="#404040")
XT = [0, 2, 4, 6, 8, 10, 12, 14, 16, 18]


def dom(top, bottom):
    return [1 - bottom / H, 1 - top / H]


fig.update_layout(
    width=W, height=H, margin=dict(l=0, r=0, t=0, b=0, autoexpand=False), paper_bgcolor="white", plot_bgcolor="white", showlegend=False,
    shapes=shapes,
    xaxis=dict(domain=[L, R], range=[-1, 19], side="top", anchor="y", tickmode="array", tickvals=XT[:4], showticklabels=False,
               ticks="inside", ticklen=12, tickcolor="#404040", tickwidth=1, showgrid=False, zeroline=False, showline=True,
               linecolor=AXC, linewidth=2, mirror=True,
               minor=dict(tickmode="array", tickvals=XT[4:], ticks="inside", ticklen=4, tickcolor="#404040", showgrid=False)),
    yaxis=dict(domain=dom(83, 328), range=[0, 4], anchor="x", tickmode="array", tickvals=[0, 1, 2, 3, 4], ticks="inside", ticklen=12,
               tickcolor="#404040", tickfont=TICK, showgrid=False, zeroline=False, showline=True, linecolor=AXC, linewidth=2,
               title=dict(text="<i>z/H</i>", standoff=13, font=TITLE)),
    xaxis2=dict(domain=[L, R], range=[-1, 19], anchor="y2", tickmode="array", tickvals=XT, ticks="inside", ticklen=12, tickcolor="#404040",
                tickfont=TICK, showgrid=False, zeroline=False, showline=True, linecolor=AXC, linewidth=2, mirror=True,
                title=dict(text="<i>x/H</i>", standoff=10, font=TITLE)),
    yaxis2=dict(domain=dom(350, 1085), range=[-6, 6], anchor="x2", tickmode="array", tickvals=[-6, -4, -2, 0, 2, 4, 6],
                ticktext=["-6", "-4", "-2", "0", "2", "4", "6"], ticks="inside", ticklen=12, tickcolor="#404040", tickfont=TICK,
                showgrid=False, zeroline=False, showline=True, linecolor=AXC, linewidth=2,
                title=dict(text="<i>y/H</i>", standoff=7, font=TITLE)),
    xaxis3=dict(domain=[L, R], type="log", range=[-3, 1], side="top", anchor="y3", tickmode="array", tickvals=CB_DECADES, ticktext=CB_LABELS,
                ticks="inside", ticklen=9, tickcolor="#262626", tickfont=CBTICK, showgrid=False, zeroline=False, showline=True,
                linecolor="#262626", linewidth=1, mirror=True,
                minor=dict(tickmode="array", tickvals=CB_MINOR, ticks="inside", ticklen=4, tickcolor="#262626", showgrid=False)),
    yaxis3=dict(domain=dom(39, 61), range=[0, 1], anchor="x3", showticklabels=False, ticks="", showgrid=False, zeroline=False, showline=True,
                linecolor="#262626", linewidth=1, mirror=True),
    annotations=[
        dict(text="<i>C</i><sub>*</sub>", xref="paper", yref="paper", x=8 / W, y=1 - 30 / H, xanchor="left", yanchor="middle", showarrow=False,
             font=dict(family="Liberation Serif, serif", size=28, color="#404040")),
        dict(text="(a)", xref="x", yref="y", x=-.77, y=3.53, xanchor="left", yanchor="middle", showarrow=False,
             font=dict(family="Liberation Serif, serif", size=24, color="#262626")),
        dict(text="(b)", xref="x2", yref="y2", x=-.77, y=5.65, xanchor="left", yanchor="middle", showarrow=False,
             font=dict(family="Liberation Serif, serif", size=24, color="#262626")),
    ],
)

fig.write_html("out.html", config={"displayModeBar": False}, post_script="document.body.style.margin='0';")
